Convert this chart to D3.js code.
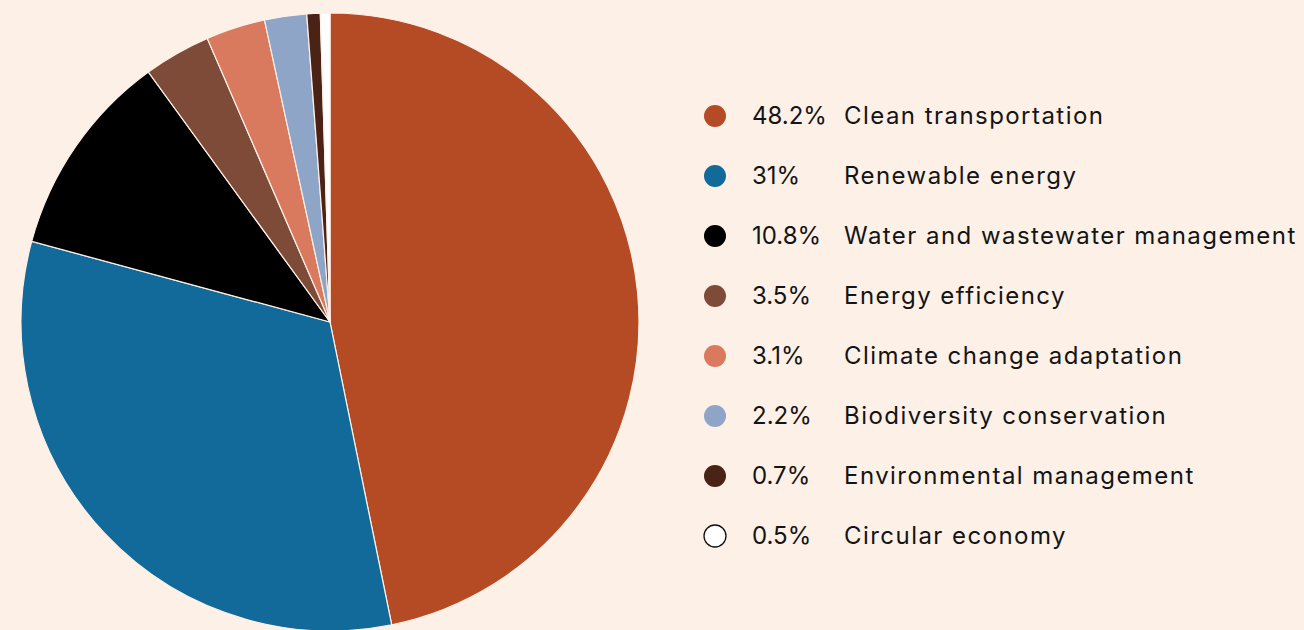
<!DOCTYPE html>
<html>
<head>
<meta charset="UTF-8">
<title>Use of proceeds</title>
<style>
  body {
    margin: 0;
    background-color: #FDF0E7;
    font-family: Inter, 'Open Sans', sans-serif;
  }
  .slice {
    stroke: #FDF0E7;
    stroke-width: 1.2px;
  }
  .legend text {
    font-size: 24px;
    fill: #141414;
  }
  .legend text.name {
    letter-spacing: 1.45px;
  }
</style>
</head>
<body>
<div id="container"></div>
<script src="https://cdnjs.cloudflare.com/ajax/libs/d3/7.8.5/d3.min.js"></script>
<script>

  // categories and printed shares
  var categories = ["Clean transportation", "Renewable energy", "Water and wastewater management",
    "Energy efficiency", "Climate change adaptation", "Biodiversity conservation",
    "Environmental management", "Circular economy"];
  var shareLabels = ["48.2%", "31%", "10.8%", "3.5%", "3.1%", "2.2%", "0.7%", "0.5%"];
  // slice sizes as drawn in the picture
  var sliceValues = [46.8, 32.4, 10.8, 3.5, 3.1, 2.2, 0.7, 0.5];
  var colors = ["#B54B25", "#126A9A", "#000000", "#7F4B39", "#D97A5E", "#8FA5C7", "#4A2316", "#FFFFFF"];

  var width = 1304, height = 630;

  var svg = d3.select("#container").append("svg")
    .attr("width", width)
    .attr("height", height);

  // pie
  var pie = d3.pie().sort(null).value(function(d) { return d; });
  var arc = d3.arc().innerRadius(0).outerRadius(309);

  var g = svg.append("g").attr("transform", "translate(330,322)");
  g.selectAll("path")
    .data(pie(sliceValues))
    .enter().append("path")
      .attr("class", "slice")
      .attr("d", arc)
      .attr("fill", function(d, i) { return colors[i]; });

  // legend
  var y = d3.scalePoint().domain(categories).range([116, 536]);

  var legend = svg.append("g").attr("class", "legend");
  var rows = legend.selectAll("g")
    .data(categories)
    .enter().append("g")
      .attr("transform", function(d) { return "translate(0," + y(d) + ")"; });

  rows.append("circle")
    .attr("cx", 715)
    .attr("r", 11)
    .attr("fill", function(d, i) { return colors[i]; })
    .attr("stroke", function(d, i) { return colors[i] === "#FFFFFF" ? "#111" : "none"; })
    .attr("stroke-width", 1.3);

  rows.append("text")
    .attr("x", 752)
    .attr("dy", "0.35em")
    .text(function(d, i) { return shareLabels[i]; });

  rows.append("text")
    .attr("class", "name")
    .attr("x", 844)
    .attr("dy", "0.35em")
    .text(function(d) { return d; });

</script>
</body>
</html>
